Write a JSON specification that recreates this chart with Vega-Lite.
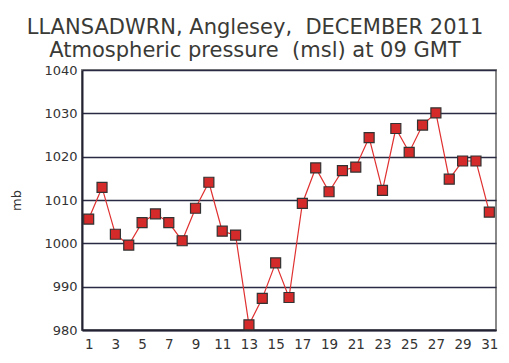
{
  "$schema": "https://vega.github.io/schema/vega-lite/v6.json",
  "autosize": {"type": "none"},
  "padding": {"left": 82, "top": 70, "right": 13, "bottom": 33},
  "width": 414,
  "height": 260,
  "background": "white",
  "title": {
    "text": ["LLANSADWRN, Anglesey, \u00a0DECEMBER 2011", "Atmospheric pressure \u00a0(msl) at 09 GMT"],
    "font": "DejaVu Sans",
    "fontSize": 21,
    "fontWeight": "normal",
    "color": "#3a3a36",
    "anchor": "middle",
    "frame": "group",
    "dx": -34,
    "offset": 3,
    "lineHeight": 23
  },
  "config": {
    "view": {"stroke": "#888888", "strokeWidth": 2},
    "font": "DejaVu Sans"
  },
  "data": {
    "values": [
      {"day": 1, "mb": 1005.6},
      {"day": 2, "mb": 1012.9},
      {"day": 3, "mb": 1002.1},
      {"day": 4, "mb": 999.6},
      {"day": 5, "mb": 1004.8},
      {"day": 6, "mb": 1006.8},
      {"day": 7, "mb": 1004.8},
      {"day": 8, "mb": 1000.6},
      {"day": 9, "mb": 1008.1},
      {"day": 10, "mb": 1014.1},
      {"day": 11, "mb": 1002.8},
      {"day": 12, "mb": 1001.9},
      {"day": 13, "mb": 981.2},
      {"day": 14, "mb": 987.3},
      {"day": 15, "mb": 995.5},
      {"day": 16, "mb": 987.5},
      {"day": 17, "mb": 1009.2},
      {"day": 18, "mb": 1017.4},
      {"day": 19, "mb": 1011.9},
      {"day": 20, "mb": 1016.8},
      {"day": 21, "mb": 1017.6},
      {"day": 22, "mb": 1024.4},
      {"day": 23, "mb": 1012.2},
      {"day": 24, "mb": 1026.5},
      {"day": 25, "mb": 1021.0},
      {"day": 26, "mb": 1027.3},
      {"day": 27, "mb": 1030.1},
      {"day": 28, "mb": 1014.8},
      {"day": 29, "mb": 1019.0},
      {"day": 30, "mb": 1019.0},
      {"day": 31, "mb": 1007.2}
    ]
  },
  "encoding": {
    "x": {
      "field": "day",
      "type": "quantitative",
      "scale": {"domain": [0.5, 31.5], "nice": false, "zero": false},
      "axis": {
        "title": null,
        "values": [1, 3, 5, 7, 9, 11, 13, 15, 17, 19, 21, 23, 25, 27, 29, 31],
        "format": "d",
        "grid": false,
        "ticks": false,
        "domainColor": "#222233",
        "domainWidth": 2,
        "labelFontSize": 13.5,
        "labelColor": "#333333",
        "labelPadding": 7
      }
    },
    "y": {
      "field": "mb",
      "type": "quantitative",
      "scale": {"domain": [980, 1040], "nice": false, "zero": false},
      "axis": {
        "title": "mb",
        "titleFontSize": 13,
        "titleFontWeight": "normal",
        "titleColor": "#333333",
        "titlePadding": 20,
        "values": [980, 990, 1000, 1010, 1020, 1030, 1040],
        "format": "d",
        "grid": true,
        "gridColor": "#2a2a44",
        "gridWidth": 1.5,
        "gridOpacity": 1,
        "ticks": false,
        "domainColor": "#222233",
        "domainWidth": 2,
        "labelFontSize": 13,
        "labelColor": "#333333",
        "labelPadding": 5
      }
    }
  },
  "layer": [
    {"mark": {"type": "line", "color": "#e03030", "strokeWidth": 1.2}},
    {"mark": {"type": "point", "shape": "square", "filled": true, "size": 100, "fill": "#d42a2a", "stroke": "#333333", "strokeWidth": 1.2, "opacity": 1}}
  ]
}
